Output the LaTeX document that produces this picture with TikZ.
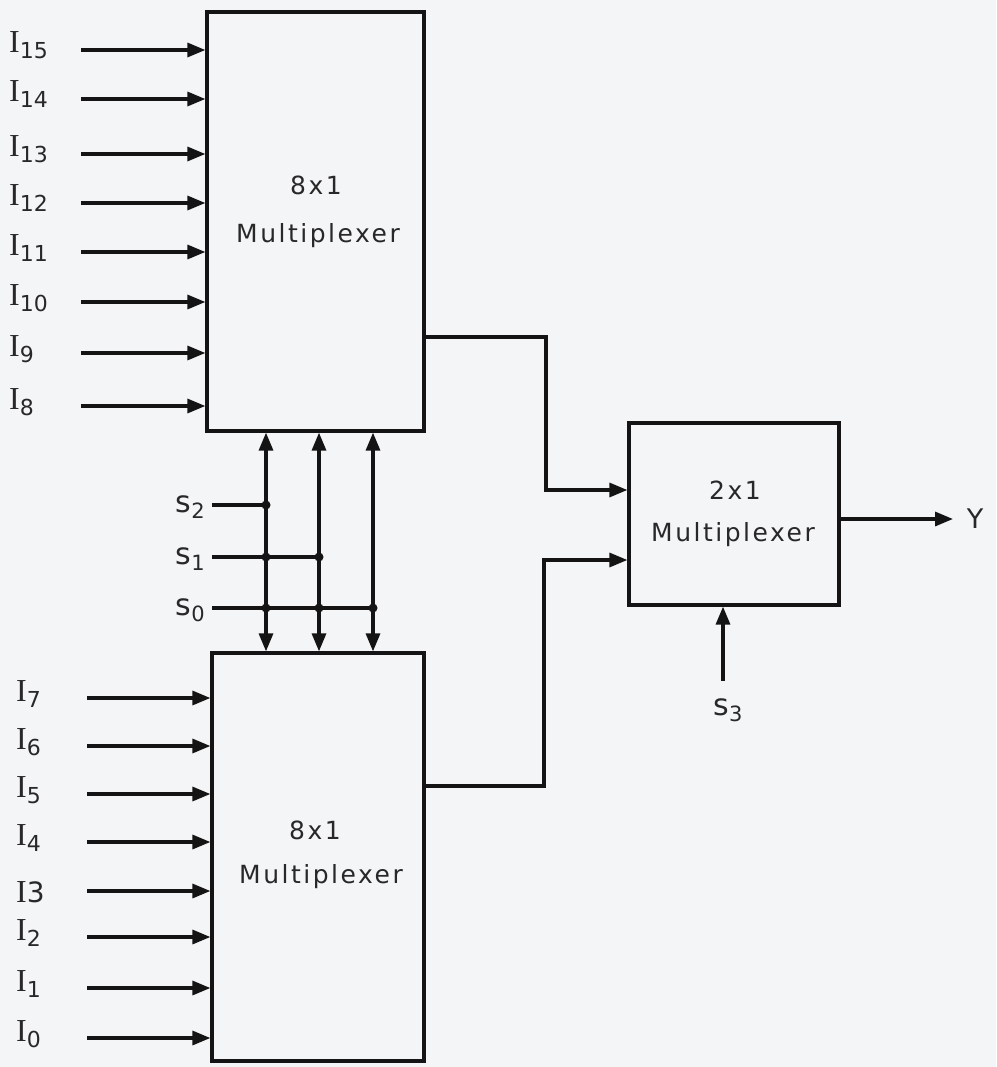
\documentclass[tikz,border=0pt]{standalone}
\usepackage{fontspec}
\usetikzlibrary{arrows.meta}
\newfontfamily\boxfont[LetterSpace=10]{DejaVu Sans}
\newfontfamily\sfnt{DejaVu Sans}
\newfontfamily\ifnt{Liberation Serif}
\definecolor{bg}{RGB}{244,245,247}
\definecolor{ink}{RGB}{20,20,20}
\definecolor{txt}{RGB}{40,40,40}
\newcommand{\Ilab}[1]{{\fontsize{32}{32}\ifnt I}\raisebox{-6pt}{\fontsize{22}{22}\sfnt #1}}
\newcommand{\Slab}[1]{{\fontsize{30}{30}\sfnt s}\raisebox{-6pt}{\fontsize{21}{21}\sfnt #1}}
\tikzset{
  wire/.style={line width=3.2pt, draw=ink},
  arr/.style={wire, -{Triangle[length=18pt,width=14pt]}},
  darr/.style={wire, {Triangle[length=18pt,width=14pt]}-{Triangle[length=18pt,width=14pt]}},
  muxbox/.style={draw=ink, line width=3.2pt, rectangle, inner sep=0pt},
  boxtxt/.style={inner sep=0pt, text=txt, font=\fontsize{25}{25}\boxfont},
  ilabel/.style={inner sep=0pt, anchor=base west, text=txt},
  slabel/.style={inner sep=0pt, anchor=base east, text=txt},
  jdot/.style={circle, fill=ink, inner sep=0pt, minimum size=9pt},
}
\begin{document}
\begin{tikzpicture}[x=1pt,y=-1pt]
\fill[bg] (0,0) rectangle (996,1067);
\useasboundingbox (0,0) rectangle (996,1067);

% boxes
\node[muxbox, minimum width=217pt, minimum height=419pt] (top) at (315.5,221.5) {};
\node[muxbox, minimum width=212pt, minimum height=408pt] (bot) at (318,857) {};
\node[muxbox, minimum width=210pt, minimum height=182pt] (mux2) at (734,514) {};

\node[boxtxt] (t1) at (316,185) {8x1};
\node[boxtxt] (t2) at (318,236) {Multiplexer};
\node[boxtxt] (b1) at (315,830) {8x1};
\node[boxtxt] (b2) at (321,877) {Multiplexer};
\node[boxtxt] (m1) at (735,490) {2x1};
\node[boxtxt] (m2) at (733,535) {Multiplexer};

% top inputs I15..I8
\foreach \n/\y in {15/50, 14/99, 13/154, 12/203, 11/252, 10/302, 9/353, 8/406}{
  \node[ilabel] (L\n) at (9,\y+3) {\Ilab{\n}};
  \coordinate (S\n) at (81,\y);
  \draw[arr] (S\n) -- (S\n -| top.west);
}
% bottom inputs I7..I0
\foreach \n/\y in {7/698, 6/746, 5/794, 4/842, 2/937, 1/988, 0/1038}{
  \node[ilabel] (L\n) at (16,\y+3) {\Ilab{\n}};
  \coordinate (S\n) at (87,\y);
  \draw[arr] (S\n) -- (S\n -| bot.west);
}
\node[ilabel] (L3) at (16,891+11) {{\fontsize{32}{32}\ifnt I}{\fontsize{28}{28}\sfnt 3}};
\coordinate (S3) at (87,891);
\draw[arr] (S3) -- (S3 -| bot.west);

% select lines
\foreach \k/\x in {a/266, b/319, c/373}{
  \coordinate (V\k) at (\x,500);
  \draw[darr] (V\k |- top.south) -- (V\k |- bot.north);
}
\coordinate (s2s) at (212,505);
\coordinate (s1s) at (212,557);
\coordinate (s0s) at (212,608);
\node[slabel] (s2l) at (205,512) {\Slab{2}};
\node[slabel] (s1l) at (205,564) {\Slab{1}};
\node[slabel] (s0l) at (205,615) {\Slab{0}};
\draw[wire] (s2s) -- (s2s -| Va) node[jdot] (d2a) {};
\draw[wire] (s1s) -- (s1s -| Vb) node[jdot] (d1b) {};
\draw[wire] (s0s) -- (s0s -| Vc) node[jdot] (d0c) {};
\node[jdot] (d1a) at (s1s -| Va) {};
\node[jdot] (d0a) at (s0s -| Va) {};
\node[jdot] (d0b) at (s0s -| Vb) {};

% outputs to 2x1
\coordinate (o1) at (424,337);
\coordinate (k1) at (546,337);
\coordinate (e1) at (546,490);
\draw[arr] (o1 -| top.east) -- (k1) -- (e1) -- (e1 -| mux2.west);
\coordinate (o2) at (424,786);
\coordinate (k2) at (544,786);
\coordinate (e2) at (544,560);
\draw[arr] (o2 -| bot.east) -- (k2) -- (e2) -- (e2 -| mux2.west);

% output Y
\coordinate (yo) at (839,519);
\coordinate (ye) at (953,519);
\node[inner sep=0pt, text=txt, font=\fontsize{27}{27}\sfnt] (Y) at (975,519) {Y};
\draw[arr] (yo -| mux2.east) -- (ye);

% s3
\coordinate (s3s) at (723,681);
\node[inner sep=0pt, anchor=base, text=txt] (s3l) at (728,715) {\Slab{3}};
\draw[arr] (s3s) -- (s3s |- mux2.south);
\end{tikzpicture}
\end{document}
